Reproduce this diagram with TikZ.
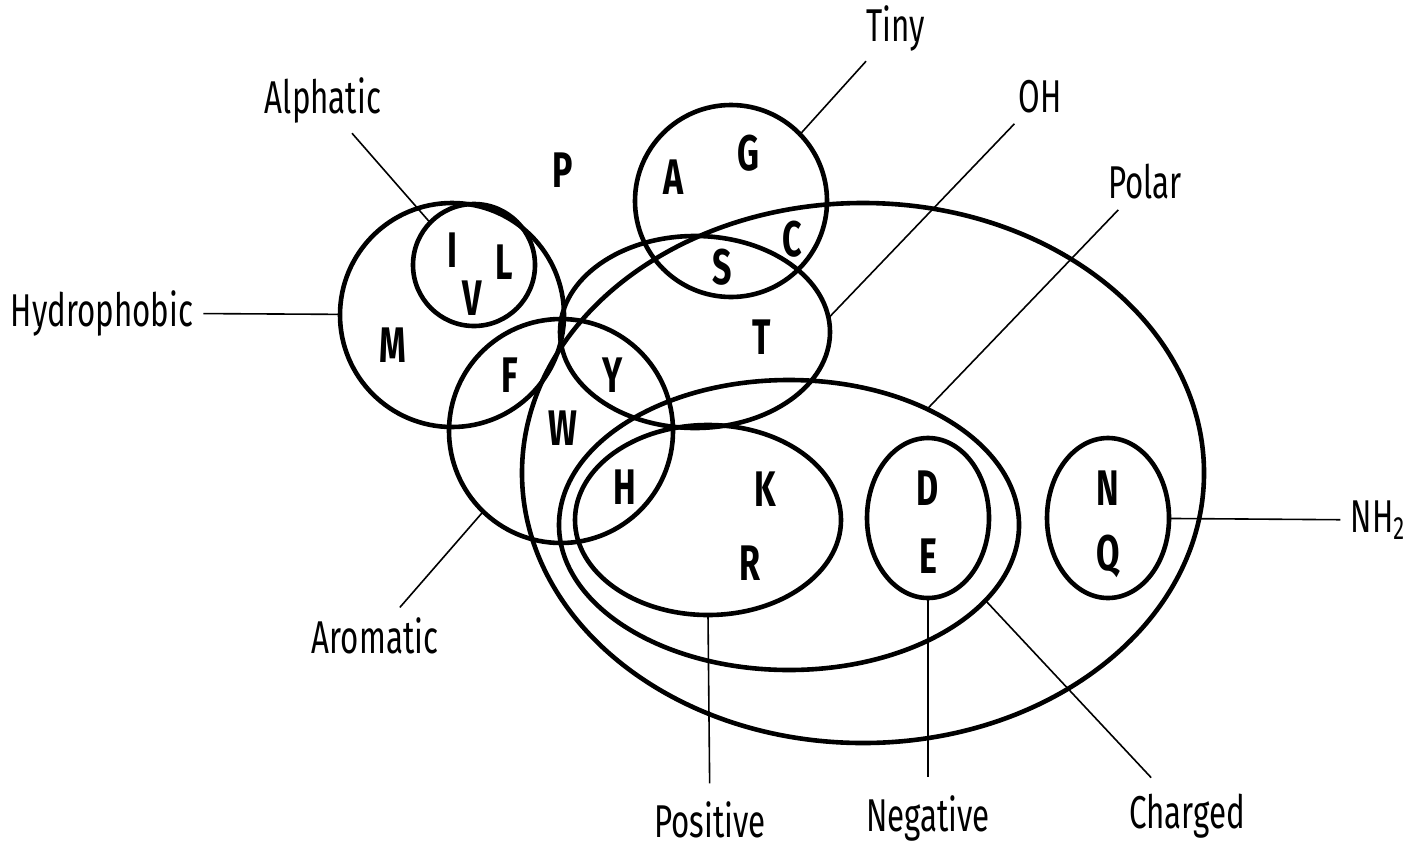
\documentclass[tikz,border=0pt]{standalone}
\usepackage{fontspec}
\usetikzlibrary{shapes.geometric}
\newfontfamily\condfont[FakeStretch=0.68]{Fira Sans}
\definecolor{ink}{HTML}{000000}
\tikzset{
  venn/.style={draw=ink,line width=2.3bp,inner sep=0pt,outer sep=0pt},
  ring/.style={venn,circle},
  oval/.style={venn,ellipse},
  letter/.style={font=\condfont\bfseries\fontsize{25bp}{30bp}\selectfont,text=ink},
  tag/.style={font=\condfont\fontsize{23bp}{28bp}\selectfont,text=ink,inner sep=5bp},
  leader/.style={draw=ink,line width=0.8bp},
  footleader/.style={leader,shorten >=4bp}
}

\begin{document}
\begin{tikzpicture}[x=0.5bp,y=-0.5bp]
\path[use as bounding box] (0,0) rectangle (1418,849);

% sets
\node[ring,minimum size=112bp] (hydro) at (452,315) {};
\node[ring,minimum size=61bp] (aliph) at (474,265) {};
\node[ring,minimum size=112bp] (arom) at (561,431) {};
\node[ring,minimum size=96bp] (tiny) at (731,201) {};
\node[oval,minimum width=135bp,minimum height=96bp] (oh) at (695,332) {};
\node[oval,minimum width=341bp,minimum height=270bp] (polar) at (863,473) {};
\node[oval,minimum width=230bp,minimum height=145bp] (charged) at (789,525) {};
\node[oval,minimum width=133bp,minimum height=95bp] (pos) at (708,520) {};
\node[oval,minimum width=61bp,minimum height=80bp] (neg) at (928,518) {};
\node[oval,minimum width=61bp,minimum height=80bp] (nh2) at (1108,518) {};

% residues
\node[letter] (res-p) at (563,170) {P};
\node[letter] (res-a) at (674,177) {A};
\node[letter] (res-g) at (748,153) {G};
\node[letter] (res-c) at (792,239) {C};
\node[letter] (res-s) at (722,267) {S};
\node[letter] (res-i) at (452,250) {I};
\node[letter] (res-l) at (504,262) {L};
\node[letter] (res-v) at (472,298) {V};
\node[letter] (res-m) at (393,345) {M};
\node[letter] (res-f) at (510,375) {F};
\node[letter] (res-y) at (613,375) {Y};
\node[letter] (res-t) at (762,337) {T};
\node[letter] (res-w) at (563,428) {W};
\node[letter] (res-h) at (625,487) {H};
\node[letter] (res-k) at (765,489) {K};
\node[letter] (res-r) at (750,563) {R};
\node[letter] (res-d) at (928,488) {D};
\node[letter] (res-e) at (928,556) {E};
\node[letter] (res-n) at (1108,488) {N};
\node[letter] (res-q) at (1108,556) {Q};

% set names
\node[tag] (tiny-tag) at (896,28) {Tiny};
\node[tag] (oh-tag) at (1040,97) {OH};
\node[tag] (polar-tag) at (1145,182) {Polar};
\node[tag] (aliph-tag) at (323,100) {Alphatic};
\node[tag] (hydro-tag) at (102,313) {Hydrophobic};
\node[tag] (arom-tag) at (375,636) {Aromatic};
\node[tag] (nh2-tag) at (1378,520) {NH\textsubscript{2}};
\node[tag] (pos-tag) at (710,820) {Positive};
\node[tag] (neg-tag) at (928,818) {Negative};
\node[tag] (charged-tag) at (1187,816) {Charged};

% leaders
\draw[leader] (tiny.44) -- (tiny-tag);
\draw[leader] (oh.6) -- (oh-tag);
\draw[leader] (charged.40) -- (polar-tag);
\draw[leader] (aliph.136) -- (aliph-tag);
\draw[leader] (hydro-tag) -- (hydro);
\draw[leader] (arom.226) -- (arom-tag);
\draw[leader] (nh2) -- (nh2-tag);
\draw[footleader] (pos.south) -- (pos-tag);
\draw[footleader] (neg.south) -- (neg-tag);
\draw[footleader] (charged.-21) -- (charged-tag);
\end{tikzpicture}
\end{document}
